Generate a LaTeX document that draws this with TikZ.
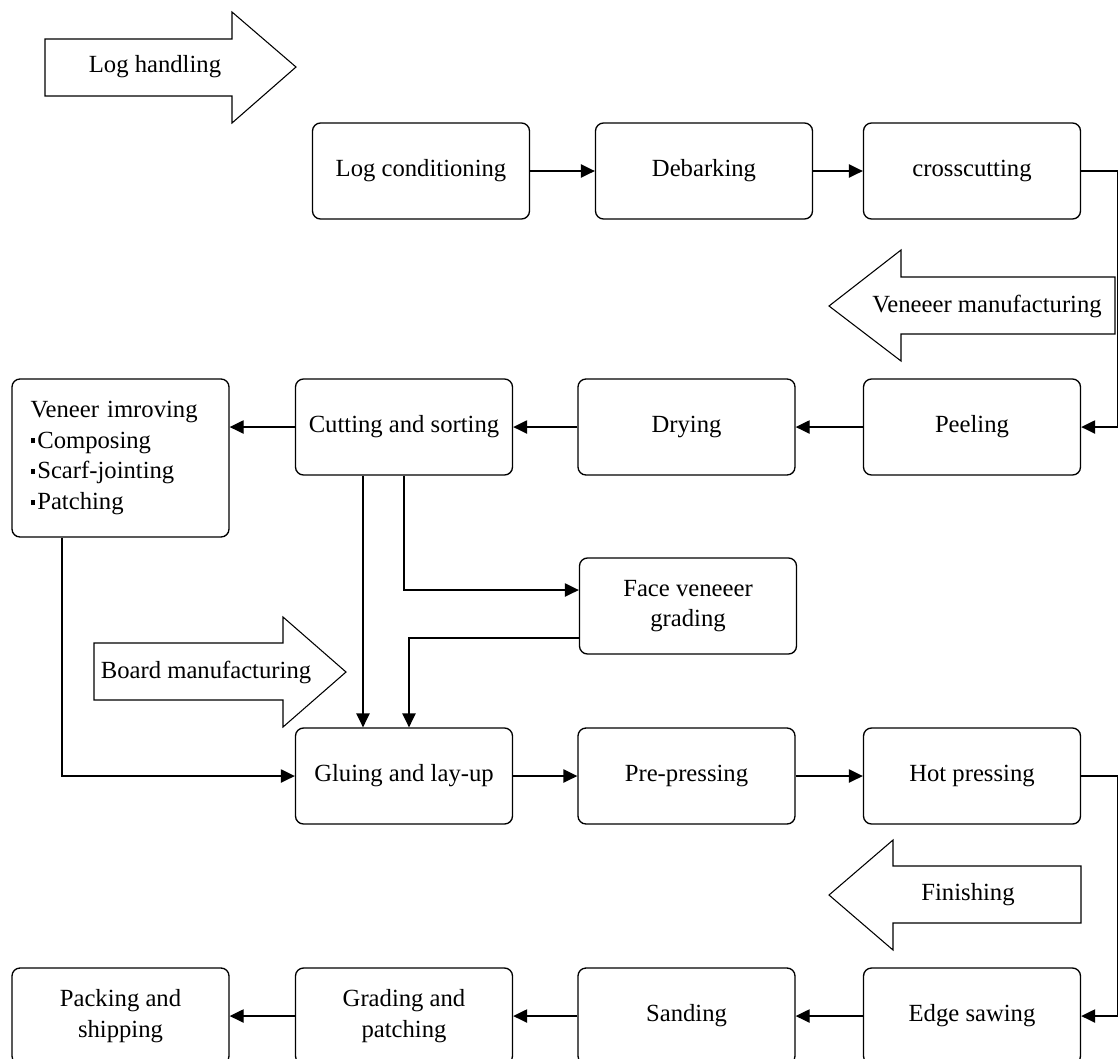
\documentclass[tikz,border=0pt]{standalone}
\usepackage{fontspec}
\setmainfont{Liberation Serif}
\usetikzlibrary{arrows.meta}
\newcommand{\sqbullet}{\rule[0.2em]{3.6pt}{3.6pt}\hspace{1.5pt}}

\begin{document}
\begin{tikzpicture}[x=0.75pt,y=-0.75pt,
	font=\fontsize{18.5}{23}\selectfont,
	stage/.style={draw,line width=1pt,rounded corners=6pt,minimum width=162.75pt,minimum height=72pt,align=center,inner sep=2pt},
	flow/.style={line width=1pt,-{Triangle[length=10.5pt,width=10pt]}},
	bigarrow/.style={draw,line width=0.8pt,fill=white}]
	\useasboundingbox (0,0) rectangle (1119,1058);

	% block arrows for the four phases
	\draw[bigarrow] (45,39) -- (232,39) -- (232,12) -- (296,67) -- (232,123) -- (232,96) -- (45,96) -- cycle;
	\node (handling) at (155,67) {Log handling};
	\draw[bigarrow] (1115,277) -- (901,277) -- (901,250) -- (829,306) -- (901,361) -- (901,334) -- (1115,334) -- cycle;
	\node (veneering) at (987,306) {Veneeer manufacturing};
	\draw[bigarrow] (94,643) -- (283,643) -- (283,617) -- (346,672) -- (283,727) -- (283,700) -- (94,700) -- cycle;
	\node (boarding) at (206,672) {Board manufacturing};
	\draw[bigarrow] (1081,866) -- (893,866) -- (893,840) -- (829,895) -- (893,950) -- (893,923) -- (1081,923) -- cycle;
	\node (finishing) at (968,895) {Finishing};

	% process steps
	\node[stage] (cond) at (421,171) {Log conditioning};
	\node[stage] (debark) at (704,171) {Debarking};
	\node[stage] (cross) at (972,171) {crosscutting};

	\node[stage,minimum height=118.5pt,text width=135pt,align=left] (improve) at (120.5,458)
		{Veneer imroving\\\sqbullet Composing\\\sqbullet Scarf-jointing\\\sqbullet Patching};
	\node[stage] (cut) at (404,427) {Cutting and sorting};
	\node[stage] (dry) at (686.5,427) {Drying};
	\node[stage] (peel) at (972,427) {Peeling};
	\node[stage] (face) at (688,606) {Face veneeer\\grading};

	\node[stage] (glue) at (404,776) {Gluing and lay-up};
	\node[stage] (prepress) at (686.5,776) {Pre-pressing};
	\node[stage] (hotpress) at (972,776) {Hot pressing};

	\node[stage] (pack) at (120.5,1016) {Packing and\\shipping};
	\node[stage] (grade) at (404,1016) {Grading and\\patching};
	\node[stage] (sand) at (686.5,1016) {Sanding};
	\node[stage] (edge) at (972,1016) {Edge sawing};

	% connectors
	\draw[flow] (cond) -- (debark);
	\draw[flow] (debark) -- (cross);
	\draw[flow] (cross.east) -- ++(36,0) |- (peel.east);
	\draw[flow] (peel) -- (dry);
	\draw[flow] (dry) -- (cut);
	\draw[flow] (cut.west) -- (cut.west -| improve.east);
	\draw[flow] ([xshift=38pt]improve.south west) |- (glue.west);
	\draw[flow] ([xshift=-30.75pt]cut.south) -- ([xshift=-30.75pt]glue.north);
	\draw[flow] (cut.south) |- ([yshift=12pt]face.west);
	\draw[flow] ([yshift=-24pt]face.west) -| ([xshift=3.75pt]glue.north);
	\draw[flow] (glue) -- (prepress);
	\draw[flow] (prepress) -- (hotpress);
	\draw[flow] (hotpress.east) -- ++(36,0) |- (edge.east);
	\draw[flow] (edge) -- (sand);
	\draw[flow] (sand) -- (grade);
	\draw[flow] (grade) -- (pack);
\end{tikzpicture}
\end{document}
